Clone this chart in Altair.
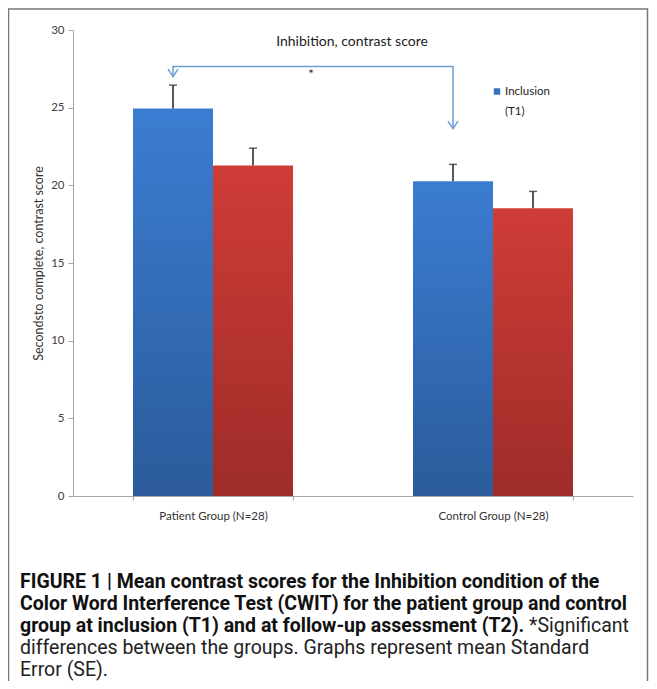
import altair as alt
import pandas as pd

# ---------------- data ----------------
groups = ["Patient Group (N=28)", "Control Group (N=28)"]
series = ["T1", "T2"]
mean_t1 = [24.95, 20.27]
mean_t2 = [21.27, 18.52]
se_t1 = [1.50, 1.08]
se_t2 = [1.12, 1.09]

# significance bracket (between T1 bars)
arrow_groups = [groups[0], groups[0], groups[1], groups[1]]
arrow_y = [27.0, 27.65, 27.65, 23.65]
star_y = [27.1]

title_text = "Inhibition, contrast score"
y_title = "Secondsto complete, contrast score"
legend_lines = ["Inclusion", "(T1)"]

caption_bold = [
    "FIGURE 1 | Mean contrast scores for the Inhibition condition of the",
    "Color Word Interference Test (CWIT) for the patient group and control",
    "group at inclusion (T1) and at follow-up assessment (T2).",
]
caption_regular = [
    "*Significant",
    "differences between the groups. Graphs represent mean Standard",
    "Error (SE).",
]

rows = []
for i, g in enumerate(groups):
    rows.append({"group": g, "series": "T1", "mean": mean_t1[i], "top": mean_t1[i] + se_t1[i]})
    rows.append({"group": g, "series": "T2", "mean": mean_t2[i], "top": mean_t2[i] + se_t2[i]})
df = pd.DataFrame(rows)

arrow_df = pd.DataFrame({"group": arrow_groups, "series": ["T1"] * 4, "y": arrow_y, "o": [0, 1, 2, 3]})
tips_df = arrow_df.iloc[[0, 3]]

# ---------------- styling ----------------
W, H = 560, 466
PL, PT, PR, PB = 65, 22, 16, 185
FONT = "Lato"
CAP_FONT = "Roboto"
CAP_SIZE = 19.5

blue_grad = alt.LinearGradient(
    gradient="linear", x1=0, x2=0, y1=0, y2=1,
    stops=[alt.GradientStop(color="#3b7dd2", offset=0), alt.GradientStop(color="#2b5b9b", offset=1)],
)
red_grad = alt.LinearGradient(
    gradient="linear", x1=0, x2=0, y1=0, y2=1,
    stops=[alt.GradientStop(color="#cf3c37", offset=0), alt.GradientStop(color="#9e2c29", offset=1)],
)

x_axis = alt.Axis(
    title=None, labelAngle=0, tickBand="extent", tickSize=4, domainColor="#a6a6a6",
    tickColor="#a6a6a6", labelFont=FONT, labelFontSize=11.5, labelColor="#333333", labelPadding=10,
)
y_axis = alt.Axis(
    values=[0, 5, 10, 15, 20, 25, 30], grid=False, domainColor="#a6a6a6", tickColor="#a6a6a6",
    tickSize=5, labelFont=FONT, labelFontSize=11.5, labelColor="#404040", labelPadding=4,
    titleFont=FONT, titleFontSize=12.5, titleFontWeight="normal", titleColor="#333333", titlePadding=5,
)
x_enc = alt.X("group:N", sort=groups, scale=alt.Scale(paddingInner=0.4286, paddingOuter=0.2143), axis=x_axis)
xo_enc = alt.XOffset("series:N", sort=series, scale=alt.Scale(paddingInner=0, paddingOuter=0))
y_scale = alt.Scale(domain=[0, 30], nice=False)


def Y(field):
    return alt.Y(field, scale=y_scale, axis=y_axis, title=y_title)


base = alt.Chart(df)

bars_t1 = base.transform_filter(alt.datum.series == "T1").mark_bar(color=blue_grad).encode(
    x=x_enc, xOffset=xo_enc, y=Y("mean:Q")
)
bars_t2 = base.transform_filter(alt.datum.series == "T2").mark_bar(color=red_grad).encode(
    x=x_enc, xOffset=xo_enc, y=Y("mean:Q")
)
err = base.mark_rule(color="#222222", strokeWidth=1.5).encode(
    x=x_enc, xOffset=xo_enc, y=Y("mean:Q"), y2="top:Q"
)
caps = base.mark_tick(color="#222222", size=8, thickness=1.5).encode(
    x=x_enc, xOffset=xo_enc, y=Y("top:Q")
)

arrow_color = "#6d9ed6"
arrow_line = alt.Chart(arrow_df).mark_line(color=arrow_color, strokeWidth=1.5).encode(
    x=x_enc, xOffset=xo_enc, y=Y("y:Q"), order="o:Q"
)
arrow_heads = alt.Chart(tips_df).mark_point(
    shape="M-1,-1.5L0,0L1,-1.5", size=100, filled=False, color=arrow_color, strokeWidth=1.5, opacity=1
).encode(x=x_enc, xOffset=xo_enc, y=Y("y:Q"))

star = alt.Chart(pd.DataFrame({"y": star_y})).mark_text(
    text="*", font=FONT, fontSize=14, color="#333333", baseline="middle"
).encode(x=alt.value(238), y=Y("y:Q"))

title = alt.Chart(pd.DataFrame({"t": [title_text]})).mark_text(
    font=FONT, fontSize=14, color="#222222", baseline="middle", align="center"
).encode(text="t:N", x=alt.value(W / 2 - 1), y=alt.value(12))

# legend (only the inclusion series is listed in the original)
legend_sym = alt.Chart(pd.DataFrame({"a": [0]})).mark_square(
    color="#3872c4", size=42, opacity=1
).encode(x=alt.value(424), y=alt.value(61.5))
legend_txt = [
    alt.Chart(pd.DataFrame({"t": [txt]})).mark_text(
        font=FONT, fontSize=11.5, color="#222222", align="left", baseline="middle"
    ).encode(text="t:N", x=alt.value(432), y=alt.value(yy))
    for txt, yy in zip(legend_lines, [61.5, 81.5])
]

frame = alt.Chart(pd.DataFrame({"a": [0]})).mark_rect(
    fill="transparent", stroke="#777777", strokeWidth=1.5
).encode(x=alt.value(-64.5), x2=alt.value(574.5), y=alt.value(-21), y2=alt.value(700))

cap_layers = []
bold_y = [557.6, 579.6, 601.6]
for txt, yy in zip(caption_bold, bold_y):
    cap_layers.append(
        alt.Chart(pd.DataFrame({"t": [txt]})).mark_text(
            font=CAP_FONT, fontSize=CAP_SIZE, fontWeight="bold", color="#111111", align="left", baseline="alphabetic"
        ).encode(text="t:N", x=alt.value(-53), y=alt.value(yy))
    )
reg_pos = [(456, 601.6), (-53, 623.6), (-53, 645.6)]
for txt, (xx, yy) in zip(caption_regular, reg_pos):
    cap_layers.append(
        alt.Chart(pd.DataFrame({"t": [txt]})).mark_text(
            font=CAP_FONT, fontSize=CAP_SIZE, fontWeight="normal", color="#222222", align="left", baseline="alphabetic"
        ).encode(text="t:N", x=alt.value(xx), y=alt.value(yy))
    )

chart = alt.layer(
    frame, bars_t1, bars_t2, err, caps, arrow_line, arrow_heads, star, title, legend_sym, *legend_txt, *cap_layers
).properties(
    width=W, height=H, padding={"left": PL, "top": PT, "right": PR, "bottom": PB},
    autosize=alt.AutoSizeParams(type="none"), background="white",
).configure_view(stroke="transparent")

chart.save("out.html", embed_options={"renderer": "svg", "actions": False})
